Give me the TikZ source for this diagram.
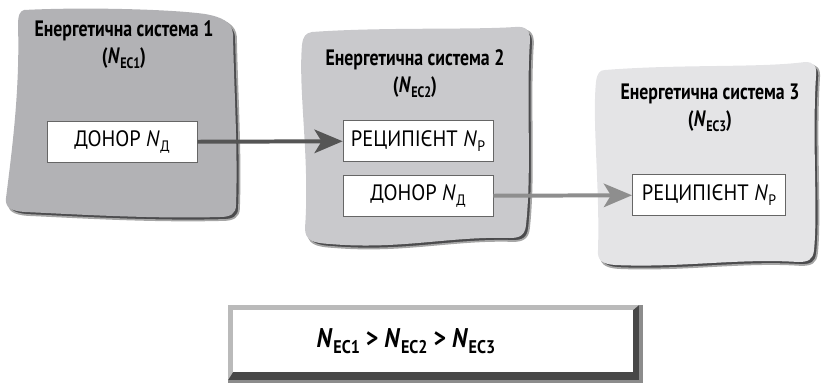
\documentclass[tikz,border=0pt]{standalone}
\usepackage{fontspec}
\setmainfont{PT Sans}
\newfontfamily\headfont[FakeStretch=0.8]{PT Sans}
\newfontfamily\boxfont[FakeStretch=0.92]{PT Sans}
\newfontfamily\relfont[FakeStretch=0.88]{PT Sans}
\usetikzlibrary{arrows.meta}

\definecolor{panelA}{RGB}{178,178,181}
\definecolor{panelB}{RGB}{201,201,204}
\definecolor{panelC}{RGB}{228,228,230}
\definecolor{rimgray}{RGB}{75,75,77}
\definecolor{arrowdark}{RGB}{85,85,85}
\definecolor{arrowlight}{RGB}{142,142,142}

\newcommand\Nsys[1]{\textit{N}\kern0.02em\raisebox{-0.45ex}{\scalebox{0.68}{#1}}}

% outlines of the three wavy panels (pixel grid, y downwards)
\newcommand\panelone{(24,10) .. controls (80,7) and (170,9) .. (205,14)
  .. controls (222,17) and (232,22) .. (233,34)
  .. controls (234,90) and (238,150) .. (236,205)
  .. controls (236,214) and (230,217) .. (220,217)
  .. controls (150,219) and (70,214) .. (25,212)
  .. controls (10,211) and (5,207) .. (6,198)
  .. controls (12,150) and (20,90) .. (18,25)
  .. controls (18,15) and (20,11) .. (24,10) -- cycle}
\newcommand\paneltwo{(312,32) .. controls (380,27) and (470,30) .. (515,27)
  .. controls (526,26) and (530,30) .. (530,40)
  .. controls (526,100) and (532,170) .. (526,225)
  .. controls (525,235) and (520,238) .. (510,238)
  .. controls (450,236) and (400,250) .. (330,244)
  .. controls (312,243) and (305,240) .. (305,228)
  .. controls (310,160) and (298,90) .. (302,45)
  .. controls (303,36) and (306,33) .. (312,32) -- cycle}
\newcommand\panelthree{(605,70) .. controls (680,64) and (760,68) .. (805,62)
  .. controls (814,62) and (817,66) .. (816,76)
  .. controls (812,140) and (818,210) .. (814,250)
  .. controls (813,260) and (808,262) .. (798,262)
  .. controls (740,258) and (680,268) .. (615,265)
  .. controls (602,264) and (597,260) .. (598,250)
  .. controls (600,190) and (592,120) .. (596,82)
  .. controls (597,73) and (600,70) .. (605,70) -- cycle}

\tikzset{
  rim/.style={fill=rimgray, draw=black!35, line width=1.5pt, shift={(3,3)}},
  infobox/.style={draw=black!60, line width=0.6pt, fill=white,
    minimum width=4.5cm, minimum height=1.22cm, inner sep=0pt,
    font=\boxfont\fontsize{19}{21}\selectfont},
  headtext/.style={align=center, font=\headfont\bfseries\fontsize{19}{23}\selectfont},
  flowarrow/.style={line width=3.4pt, -{Stealth[length=24pt,width=20pt,inset=6pt]}}
}

\begin{document}
\begin{tikzpicture}[x=0.03cm, y=-0.03cm]
  \useasboundingbox (0,0) rectangle (821,384);

  % panels with a dark rim to the lower right
  \filldraw[rim] \panelone;
  \fill[panelA] \panelone;
  \filldraw[rim] \paneltwo;
  \fill[panelB] \paneltwo;
  \filldraw[rim] \panelthree;
  \fill[panelC] \panelthree;

  % system titles
  \node[headtext] (head1) at (124,45) {Енергетична система 1\\(\Nsys{ЕС1})};
  \node[headtext] (head2) at (415,74) {Енергетична система 2\\(\Nsys{ЕС2})};
  \node[headtext] (head3) at (710,108) {Енергетична система 3\\(\Nsys{ЕС3})};

  % donor / recipient boxes
  \node[infobox] (don1) at (122,142) {ДОНОР \Nsys{Д}};
  \node[infobox] (rec2) at (418,141) {РЕЦИПІЄНТ \Nsys{Р}};
  \node[infobox] (don2) at (418,196) {ДОНОР \Nsys{Д}};
  \node[infobox, minimum width=4.6cm] (rec3) at (709,195) {РЕЦИПІЄНТ \Nsys{Р}};

  \draw[flowarrow, arrowdark] (don1) -- (rec2);
  \draw[flowarrow, arrowlight] (don2) -- (rec3);

  % bevelled frame of the relation
  \fill[black!45] (228,305) rectangle (643,383);
  \fill[black!72] (228,305) rectangle (639,380);
  \fill[black!27] (228,305) -- (639,305) -- (633,310) -- (233,310) -- (233,372) -- (228,380) -- cycle;
  \fill[white] (233,310) rectangle (633,372);
  \node[font=\relfont\bfseries\fontsize{23}{26}\selectfont] (rel) at (406,341)
    {\Nsys{ЕС1} > \Nsys{ЕС2} > \Nsys{ЕС3}};
\end{tikzpicture}
\end{document}
